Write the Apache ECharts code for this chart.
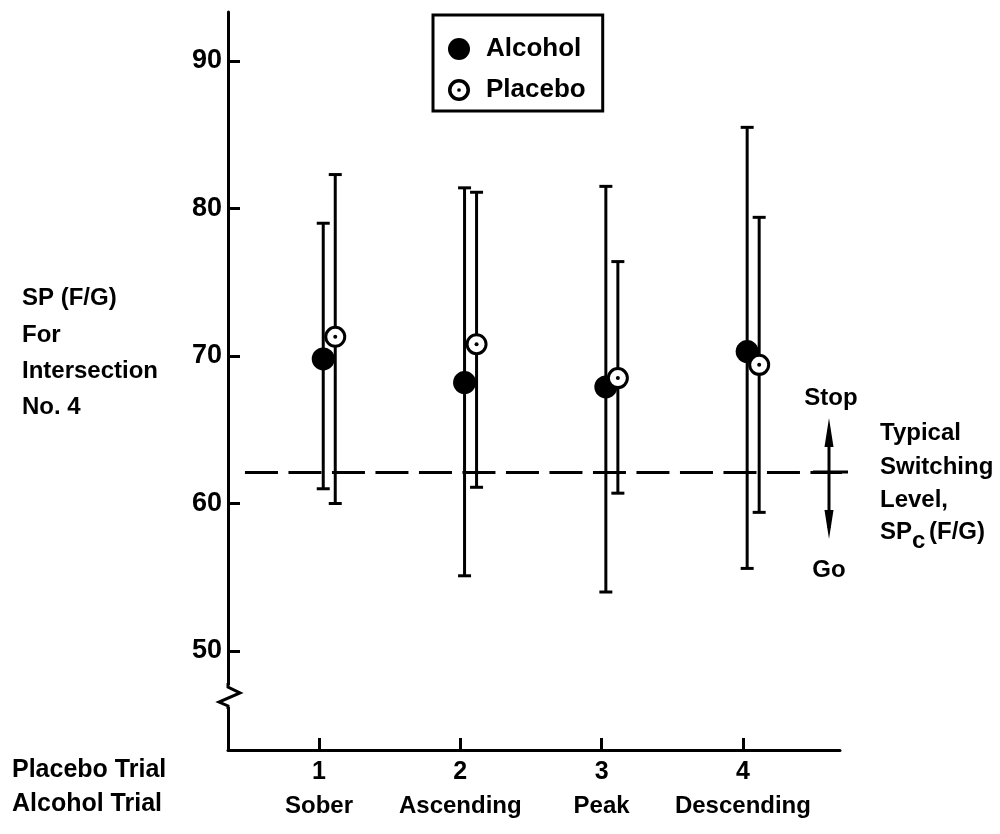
<!DOCTYPE html>
<html>
<head>
<meta charset="utf-8">
<script src="https://cdn.jsdelivr.net/npm/echarts@6/dist/echarts.min.js"></script>
<style>
  html, body { margin: 0; padding: 0; background: #fff; }
  #chart { width: 1000px; height: 834px; }
</style>
</head>
<body>
<div id="chart"></div>
<script>
// ---- data ----
const trialNums = [1, 2, 3, 4];
const trialNames = ['Sober', 'Ascending', 'Peak', 'Descending'];
const alcoholMean = [69.8, 68.2, 67.9, 70.3];
const alcoholLow  = [61.0, 55.1, 54.0, 55.6];
const alcoholHigh = [79.0, 81.4, 81.5, 85.5];
const placeboMean = [71.3, 70.8, 68.5, 69.4];
const placeboLow  = [60.0, 61.1, 60.7, 59.4];
const placeboHigh = [82.3, 81.1, 76.4, 79.4];
const yTickValues = [50, 60, 70, 80, 90];
const switchLevel = 62.1;

// ---- layout constants ----
const FONT = '"Liberation Sans", Arial, sans-serif';
const alcoholOffset = 0.03;
const placeboOffset = 0.115;

const alcoholPts = trialNums.map((t, i) => [t + alcoholOffset, alcoholMean[i]]);
const placeboPts = trialNums.map((t, i) => [t + placeboOffset, placeboMean[i]]);
const alcoholErr = trialNums.map((t, i) => [t + alcoholOffset, alcoholLow[i], alcoholHigh[i]]);
const placeboErr = trialNums.map((t, i) => [t + placeboOffset, placeboLow[i], placeboHigh[i]]);

function errRender(params, api) {
  const x = api.value(0);
  const top = api.coord([x, api.value(2)]);
  const bot = api.coord([x, api.value(1)]);
  const h = 6.5;
  const st = { stroke: '#000', lineWidth: 3 };
  return {
    type: 'group',
    children: [
      { type: 'line', shape: { x1: top[0], y1: top[1], x2: bot[0], y2: bot[1] }, style: st },
      { type: 'line', shape: { x1: top[0] - h, y1: top[1], x2: top[0] + h, y2: top[1] }, style: st },
      { type: 'line', shape: { x1: bot[0] - h, y1: bot[1], x2: bot[0] + h, y2: bot[1] }, style: st }
    ]
  };
}

const ringIcon = 'path://M10,0 A10,10 0 1,1 10,20 A10,10 0 1,1 10,0 Z M10,3.2 A6.8,6.8 0 1,0 10,16.8 A6.8,6.8 0 1,0 10,3.2 Z M10,8.3 A1.7,1.7 0 1,1 10,11.7 A1.7,1.7 0 1,1 10,8.3 Z';

const chart = echarts.init(document.getElementById('chart'));

function txt(text, x, y, opts) {
  return {
    type: 'text', z: 100, x: x, y: y,
    style: Object.assign({
      text: text, fill: '#000', font: 'bold 24px ' + FONT,
      textAlign: 'left', textVerticalAlign: 'middle'
    }, opts || {})
  };
}

const option = {
  animation: false,
  backgroundColor: '#fff',
  grid: { left: 228, right: 160, top: 12, bottom: 84 },
  xAxis: {
    type: 'value', min: 0.356, max: 4.687,
    splitLine: { show: false },
    axisLine: { show: true, lineStyle: { color: '#000', width: 3 } },
    axisTick: { show: true, inside: true, length: 12, customValues: trialNums, lineStyle: { color: '#000', width: 3 } },
    axisLabel: {
      customValues: trialNums, margin: 5,
      formatter: function (v) {
        const i = trialNums.indexOf(Math.round(v));
        return '{n|' + trialNums[i] + '}\n{w|' + trialNames[i] + '}';
      },
      rich: {
        n: { fontSize: 25, fontWeight: 'bold', fontFamily: FONT, color: '#000', lineHeight: 34 },
        w: { fontSize: 24, fontWeight: 'bold', fontFamily: FONT, color: '#000', lineHeight: 34 }
      }
    }
  },
  yAxis: {
    type: 'value', min: 43.29, max: 93.32,
    splitLine: { show: false },
    axisLine: { show: true, lineStyle: { color: '#000', width: 3 } },
    axisTick: { show: true, inside: true, length: 12, customValues: yTickValues, lineStyle: { color: '#000', width: 3 } },
    axisLabel: { customValues: yTickValues, margin: 6, fontSize: 27, fontWeight: 'bold', fontFamily: FONT, color: '#000' }
  },
  legend: {
    orient: 'vertical', left: 433, top: 15,
    padding: [21, 17, 8, 15],
    itemWidth: 44, itemHeight: 22, itemGap: 15,
    borderColor: '#000', borderWidth: 3,
    selectedMode: false,
    textStyle: { fontSize: 26, fontWeight: 'bold', fontFamily: FONT, color: '#000' },
    data: [
      { name: 'Alcohol', icon: 'circle', itemStyle: { color: '#000', borderWidth: 0, opacity: 1 } },
      { name: 'Placebo', icon: ringIcon, itemStyle: { color: '#000', borderWidth: 0, opacity: 1 } }
    ]
  },
  series: [
    {
      name: 'Switching level', type: 'line', clip: false, symbol: 'none', z: 1,
      data: [[0.476, switchLevel], [4.744, switchLevel]],
      lineStyle: { color: '#000', width: 3, type: [33, 10.5] }
    },
    { name: 'AlcoholErr', type: 'custom', renderItem: errRender, data: alcoholErr, z: 2 },
    { name: 'PlaceboErr', type: 'custom', renderItem: errRender, data: placeboErr, z: 2 },
    {
      name: 'Alcohol', type: 'scatter', data: alcoholPts, symbol: 'circle', symbolSize: 23, z: 3,
      itemStyle: { color: '#000', opacity: 1 }
    },
    {
      name: 'Placebo', type: 'scatter', data: placeboPts, symbol: 'circle', symbolSize: 19, z: 4,
      itemStyle: { color: '#fff', borderColor: '#000', borderWidth: 3, opacity: 1 }
    },
    {
      name: 'PlaceboDot', type: 'scatter', data: placeboPts, symbol: 'circle', symbolSize: 4, z: 5,
      itemStyle: { color: '#000', opacity: 1 }
    }
  ],
  graphic: [
    // axis break zigzag
    { type: 'rect', z: 99, shape: { x: 220, y: 685, width: 14, height: 22 }, style: { fill: '#fff' } },
    { type: 'polyline', z: 100, shape: { points: [[228, 683], [228, 687], [240, 693], [219, 702], [228, 706], [228, 709]] }, style: { stroke: '#000', lineWidth: 3, fill: null } },
    // double arrow
    { type: 'line', z: 100, shape: { x1: 829, y1: 430, x2: 829, y2: 528 }, style: { stroke: '#000', lineWidth: 3 } },
    { type: 'polygon', z: 100, shape: { points: [[829, 418], [824.5, 447], [833.5, 447]] }, style: { fill: '#000' } },
    { type: 'polygon', z: 100, shape: { points: [[829, 539], [824.5, 510], [833.5, 510]] }, style: { fill: '#000' } },
    { type: 'line', z: 100, shape: { x1: 813, y1: 472, x2: 848, y2: 472 }, style: { stroke: '#000', lineWidth: 3 } },
    txt('Stop', 831, 398, { textAlign: 'center' }),
    txt('Go', 829, 570, { textAlign: 'center' }),
    txt('Typical', 880, 433),
    txt('Switching', 880, 467),
    txt('Level,', 880, 500),
    txt('SP', 880, 532),
    txt('c', 912, 541),
    txt('(F/G)', 929, 532),
    // left axis title
    txt('SP (F/G)', 22, 298),
    txt('For', 22, 335),
    txt('Intersection', 22, 371),
    txt('No. 4', 22, 407),
    // bottom row titles
    txt('Placebo Trial', 12, 770, { font: 'bold 25px ' + FONT }),
    txt('Alcohol Trial', 12, 804, { font: 'bold 25px ' + FONT })
  ]
};

chart.setOption(option);
</script>
</body>
</html>
